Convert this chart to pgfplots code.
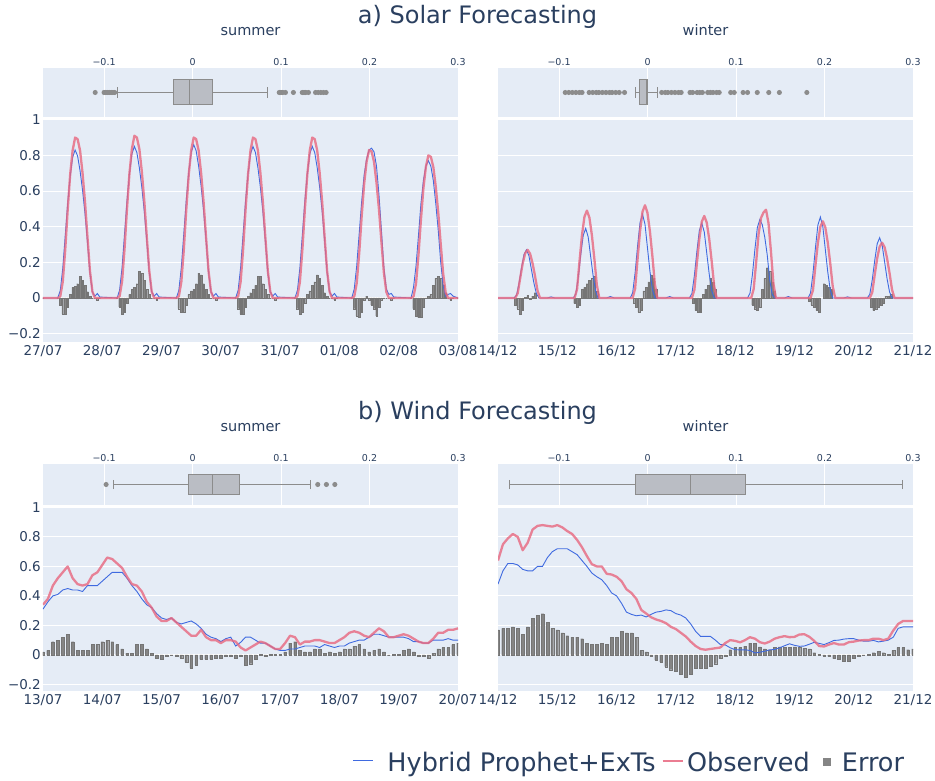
\documentclass[border=0pt]{standalone}
\usepackage{fontspec}
\setmainfont{DejaVu Sans}
\usepackage{pgfplots}
\usepackage{pgfplotstable}
\pgfplotsset{compat=1.18}
\usepgfplotslibrary{statistics}
\definecolor{bgc}{HTML}{E5ECF6}
\definecolor{tc}{HTML}{2A3F5F}
\definecolor{predc}{HTML}{3F6AE0}
\definecolor{obsc}{HTML}{E8677F}
\definecolor{errc}{HTML}{858585}
\definecolor{erre}{HTML}{757575}
\definecolor{boxf}{HTML}{BABDC4}
\definecolor{boxl}{HTML}{8C8C8C}

\pgfplotsset{
  base/.style={scale only axis, axis background/.style={fill=bgc}, axis line style={draw=none},
    major tick length=0pt, tick style={draw=none}, grid style={white, line width=1pt}},
  box/.style={base, width=415pt, xmin=-0.169, xmax=0.3, ymin=0, ymax=1, ytick=\empty,
    xtick={-0.1,0,0.1,0.2,0.3}, xticklabels={−0.1,0,0.1,0.2,0.3}, xticklabel pos=upper, xmajorgrids,
    xticklabel style={font=\fontsize{9.5}{11}\selectfont, text=tc, inner sep=0pt, anchor=south, yshift=2.5pt}},
  ts/.style={base, width=415pt, xmin=0, xmax=168, xtick={0,24,...,168},
    ytick={-0.2,0,0.2,0.4,0.6,0.8,1}, ymajorgrids,
    xticklabel style={font=\fontsize{13.5}{16}\selectfont, text=tc, inner sep=0pt, anchor=north, yshift=-3pt},
    yticklabel style={font=\fontsize{13.5}{15}\selectfont, text=tc, inner sep=0pt, anchor=east, xshift=-2pt}},
  pred/.style={color=predc, line width=0.9pt, mark=none},
  obs/.style={color=obsc, line width=2.3pt, opacity=0.8, mark=none, line join=round},
  err/.style={ybar, bar width=0.7, fill=errc, draw=erre, line width=0.15pt},
  werr/.style={ybar, bar width=1.1, fill=errc, draw=erre, line width=0.15pt},
  bxp/.style={draw=boxl, fill=boxf, line width=1pt, mark=*, mark size=2pt, mark options={fill=boxl, draw=none}},
}

% ---------- Solar summer (hours from 27/07 00:00): h obs pred err
\pgfplotstableread{
h o p e
0 0 0 0
6 0 0 0
7 0.009 0.042 -0.04
8 0.09 0.166 -0.09
9 0.27 0.349 -0.09
10 0.495 0.531 -0.05
11 0.693 0.681 0.02
12 0.828 0.789 0.06
13 0.90 0.83 0.065
14 0.891 0.797 0.08
15 0.828 0.714 0.12
16 0.702 0.606 0.10
17 0.54 0.473 0.07
18 0.342 0.315 0.035
19 0.153 0.141 0.01
20 0.036 0.033 0
21 0 0.01 0
22 0 0.025 -0.01
23 0 0.005 0
30 0 0 0
31 0.009 0.043 -0.05
32 0.091 0.17 -0.09
33 0.273 0.357 -0.08
34 0.50 0.544 -0.03
35 0.70 0.697 0.02
36 0.837 0.808 0.05
37 0.91 0.85 0.06
38 0.90 0.816 0.08
39 0.837 0.731 0.15
40 0.71 0.621 0.14
41 0.546 0.485 0.10
42 0.346 0.323 0.05
43 0.155 0.145 0.02
44 0.036 0.034 0
45 0 0.01 0
46 0 0.025 -0.01
47 0 0.005 0
54 0 0 0
55 0.009 0.043 -0.06
56 0.09 0.172 -0.08
57 0.27 0.361 -0.08
58 0.495 0.55 -0.04
59 0.693 0.705 0.02
60 0.828 0.817 0.04
61 0.90 0.86 0.05
62 0.891 0.826 0.08
63 0.828 0.74 0.14
64 0.702 0.628 0.13
65 0.54 0.49 0.08
66 0.342 0.327 0.05
67 0.153 0.146 0.02
68 0.036 0.034 0
69 0 0.01 0
70 0 0.025 -0.01
71 0 0.005 0
78 0 0 0
79 0.009 0.043 -0.06
80 0.09 0.17 -0.09
81 0.27 0.357 -0.09
82 0.495 0.544 -0.05
83 0.693 0.697 0.01
84 0.828 0.808 0.03
85 0.90 0.85 0.05
86 0.891 0.816 0.07
87 0.828 0.731 0.12
88 0.702 0.621 0.12
89 0.54 0.485 0.08
90 0.342 0.323 0.05
91 0.153 0.145 0.02
92 0.036 0.034 0
93 0 0.01 0
94 0 0.025 -0.01
95 0 0.005 0
102 0 0 0
103 0.009 0.043 -0.06
104 0.09 0.17 -0.09
105 0.27 0.357 -0.08
106 0.495 0.544 -0.03
107 0.693 0.697 0.02
108 0.828 0.808 0.04
109 0.90 0.85 0.07
110 0.891 0.816 0.09
111 0.828 0.731 0.13
112 0.702 0.621 0.11
113 0.54 0.485 0.07
114 0.342 0.323 0.03
115 0.153 0.145 0.01
116 0.036 0.034 0
117 0 0.01 0
118 0 0.025 -0.01
119 0 0.005 0
125 0 0 0
126 0.008 0.05 -0.06
127 0.083 0.18 -0.10
128 0.249 0.36 -0.11
129 0.457 0.54 -0.08
130 0.639 0.69 -0.01
131 0.764 0.78 0.01
132 0.83 0.83 -0.01
133 0.822 0.84 -0.04
134 0.764 0.82 -0.06
135 0.647 0.74 -0.10
136 0.498 0.58 -0.05
137 0.315 0.38 -0.01
138 0.141 0.17 0
139 0.033 0.05 0
140 0 0.02 0
141 0 0.025 -0.01
142 0 0.005 0
149 0 0 0
150 0.008 0.06 -0.06
151 0.08 0.18 -0.10
152 0.24 0.35 -0.11
153 0.44 0.53 -0.11
154 0.616 0.66 -0.05
155 0.736 0.74 0
156 0.80 0.77 0.01
157 0.792 0.74 0.02
158 0.736 0.66 0.07
159 0.624 0.53 0.11
160 0.48 0.38 0.12
161 0.304 0.2 0.11
162 0.136 0.07 0.07
163 0.032 0.01 0.03
164 0 0.02 0
165 0 0.025 -0.01
166 0 0.01 0
168 0 0 0
}\solarsummer

% ---------- Solar winter (hours from 14/12 00:00)
\pgfplotstableread{
h v
0 0
7 0
8 0.027
9 0.113
10 0.194
11 0.251
12 0.27
13 0.248
14 0.194
15 0.122
16 0.041
17 0
31 0
32 0.049
33 0.206
34 0.353
35 0.456
36 0.49
37 0.451
38 0.353
39 0.221
40 0.074
41 0
54.5 0
55.5 0.052
56.5 0.218
57.5 0.374
58.5 0.484
59.5 0.52
60.5 0.478
61.5 0.374
62.5 0.234
63.5 0.078
64.5 0
78.5 0
79.5 0.046
80.5 0.193
81.5 0.331
82.5 0.428
83.5 0.46
84.5 0.423
85.5 0.331
86.5 0.207
87.5 0.069
88.5 0
102.5 0
103.5 0.05
104.5 0.2
105.5 0.36
106.5 0.45
107.5 0.48
108.5 0.495
109.5 0.42
110.5 0.26
111.5 0.08
112.5 0
126.5 0
127.5 0.043
128.5 0.181
129.5 0.31
130.5 0.40
131.5 0.43
132.5 0.396
133.5 0.31
134.5 0.194
135.5 0.065
136.5 0
150.5 0
151.5 0.031
152.5 0.13
153.5 0.223
154.5 0.288
155.5 0.31
156.5 0.285
157.5 0.223
158.5 0.14
159.5 0.047
160.5 0
168 0
}\swobs

\pgfplotstableread{
h v
0 0
6.5 0
7.5 0.016
8.5 0.081
9.5 0.167
10.5 0.243
11.5 0.27
12.5 0.238
13.5 0.162
14.5 0.086
15.5 0.027
16.5 0
20 0
21.5 0.006
23 0
30.5 0
31.5 0.023
32.5 0.117
33.5 0.242
34.5 0.351
35.5 0.39
36.5 0.343
37.5 0.234
38.5 0.125
39.5 0.039
40.5 0
44 0
45.5 0.008
47 0
53.5 0
54.5 0.028
55.5 0.141
56.5 0.291
57.5 0.423
58.5 0.47
59.5 0.414
60.5 0.282
61.5 0.15
62.5 0.047
63.5 0
68 0
69.5 0.008
71 0
77.5 0
78.5 0.025
79.5 0.126
80.5 0.26
81.5 0.378
82.5 0.42
83.5 0.37
84.5 0.252
85.5 0.134
86.5 0.042
87.5 0
101 0
102 0.026
103 0.132
104 0.273
105 0.396
106 0.44
107 0.41
108 0.34
109 0.24
110 0.1
111 0.02
112 0
116 0
117.5 0.008
119 0
125.5 0
126.5 0.027
127.5 0.136
128.5 0.281
129.5 0.409
130.5 0.454
131.5 0.40
132.5 0.272
133.5 0.145
134.5 0.045
135.5 0
140 0
141.5 0.006
143 0
149.5 0
150.5 0.02
151.5 0.101
152.5 0.21
153.5 0.304
154.5 0.338
155.5 0.297
156.5 0.203
157.5 0.108
158.5 0.034
159.5 0
168 0
}\swpred

\pgfplotstableread{
h v
7 -0.04
8 -0.06
9 -0.09
10 -0.07
11 0.005
12 0.015
13 -0.005
14 0.01
15 0.03
31 -0.03
32 -0.05
33 -0.04
34 0.05
35 0.06
36 0.08
37 0.10
38 0.11
39 0.12
40 0.04
55 -0.03
56 -0.05
57 -0.08
58 -0.07
59 0.04
60 0.06
61 0.09
62 0.13
63 0.11
64 0.05
79 -0.03
80 -0.07
81 -0.08
82 -0.08
83 0.02
84 0.05
85 0.07
86 0.11
87 0.09
88 0.05
103 -0.04
104 -0.06
105 -0.07
106 -0.05
107 0.05
108 0.11
109 0.17
110 0.15
111 0.09
112 0.04
126 -0.02
127 -0.04
128 -0.05
129 -0.07
130 -0.08
132 0.08
133 0.07
134 0.06
135 0.05
151 -0.05
152 -0.07
153 -0.06
154 -0.05
155 -0.04
156 -0.03
157 0.01
158 0.01
159 0.02
}\swerr

% ---------- Wind summer (hours from 13/07 00:00)
\pgfplotstableread{
h o p e
0 0.34 0.31 0.02
2 0.38 0.36 0.03
4 0.47 0.40 0.09
6 0.52 0.41 0.10
8 0.56 0.44 0.12
10 0.60 0.45 0.14
12 0.52 0.44 0.09
14 0.48 0.44 0.03
16 0.47 0.43 0.03
18 0.48 0.47 0.03
20 0.54 0.47 0.07
22 0.56 0.47 0.07
24 0.61 0.50 0.09
26 0.66 0.53 0.10
28 0.65 0.56 0.09
30 0.62 0.56 0.07
32 0.59 0.56 0.04
34 0.53 0.52 0.01
36 0.48 0.47 0.01
38 0.47 0.43 0.07
40 0.43 0.38 0.07
42 0.36 0.34 0.04
44 0.32 0.32 0.01
46 0.26 0.28 -0.02
48 0.23 0.25 -0.03
50 0.23 0.24 -0.01
52 0.25 0.25 0.00
54 0.22 0.22 -0.01
56 0.19 0.21 -0.02
58 0.16 0.22 -0.05
60 0.13 0.23 -0.09
62 0.13 0.21 -0.07
64 0.17 0.18 -0.03
66 0.12 0.14 -0.03
68 0.10 0.12 -0.03
70 0.10 0.11 -0.02
72 0.08 0.09 -0.02
74 0.10 0.11 -0.01
76 0.10 0.12 -0.01
78 0.09 0.06 -0.02
80 0.05 0.085 -0.01
82 0.03 0.12 -0.07
84 0.05 0.12 -0.06
86 0.07 0.10 -0.03
88 0.09 0.08 0.005
90 0.08 0.08 -0.01
92 0.06 0.06 0.005
94 0.04 0.04 0.005
96 0.04 0.03 0.005
98 0.08 0.03 0.02
100 0.13 0.04 0.08
102 0.12 0.04 0.09
104 0.07 0.05 0.03
106 0.09 0.06 0.02
108 0.09 0.06 0.02
110 0.10 0.06 0.04
112 0.10 0.05 0.04
114 0.09 0.07 0.01
116 0.08 0.06 0.02
118 0.08 0.05 0.01
120 0.10 0.06 0.02
122 0.12 0.06 0.04
124 0.15 0.08 0.04
126 0.16 0.09 0.06
128 0.15 0.10 0.07
130 0.13 0.10 0.04
132 0.12 0.12 0.02
134 0.15 0.14 0.03
136 0.18 0.14 0.04
138 0.16 0.13 0.02
140 0.12 0.12 0.00
142 0.12 0.12 0.005
144 0.13 0.12 0.005
146 0.14 0.12 0.03
148 0.13 0.11 0.04
150 0.11 0.09 0.02
152 0.09 0.09 -0.005
154 0.08 0.08 -0.01
156 0.08 0.08 -0.02
158 0.11 0.10 0.01
160 0.15 0.10 0.04
162 0.15 0.10 0.05
164 0.17 0.11 0.05
166 0.17 0.10 0.07
168 0.18 0.10 0.08
}\windsummer

% ---------- Wind winter (hours from 14/12 00:00)
\pgfplotstableread{
h o p e
0 0.64 0.48 0.17
2 0.75 0.57 0.18
4 0.79 0.62 0.18
6 0.82 0.62 0.19
8 0.80 0.61 0.18
10 0.71 0.58 0.14
12 0.76 0.57 0.19
14 0.85 0.57 0.25
16 0.875 0.60 0.27
18 0.88 0.60 0.28
20 0.875 0.66 0.22
22 0.87 0.70 0.18
24 0.88 0.72 0.17
26 0.865 0.72 0.15
28 0.84 0.72 0.13
30 0.82 0.70 0.12
32 0.78 0.68 0.12
34 0.73 0.64 0.11
36 0.67 0.60 0.08
38 0.615 0.555 0.07
40 0.60 0.53 0.07
42 0.60 0.51 0.08
44 0.55 0.47 0.07
46 0.545 0.42 0.12
48 0.53 0.40 0.12
50 0.50 0.35 0.16
52 0.445 0.29 0.15
54 0.42 0.275 0.15
56 0.38 0.265 0.12
58 0.305 0.27 0.03
60 0.28 0.257 0.02
62 0.255 0.275 -0.01
64 0.24 0.29 -0.035
66 0.23 0.295 -0.05
68 0.215 0.305 -0.08
70 0.19 0.30 -0.10
72 0.175 0.28 -0.11
74 0.15 0.27 -0.13
76 0.125 0.25 -0.15
78 0.09 0.21 -0.13
80 0.06 0.16 -0.09
82 0.04 0.125 -0.09
84 0.035 0.125 -0.09
86 0.04 0.125 -0.075
88 0.045 0.10 -0.06
90 0.05 0.07 -0.025
92 0.08 0.068 -0.01
94 0.10 0.048 0.035
96 0.095 0.035 0.05
98 0.085 0.034 0.05
100 0.10 0.034 0.06
102 0.12 0.03 0.08
104 0.11 0.013 0.08
106 0.086 0.018 0.055
108 0.077 0.025 0.04
110 0.09 0.034 0.035
112 0.11 0.037 0.05
114 0.12 0.048 0.055
116 0.127 0.062 0.05
118 0.12 0.075 0.05
120 0.122 0.065 0.055
122 0.138 0.058 0.055
124 0.14 0.06 0.045
126 0.123 0.072 0.04
128 0.095 0.085 0.015
130 0.06 0.078 0.005
132 0.057 0.07 -0.005
134 0.07 0.083 -0.01
136 0.08 0.098 -0.025
138 0.07 0.10 -0.03
140 0.07 0.107 -0.04
142 0.086 0.11 -0.04
144 0.09 0.11 -0.025
146 0.097 0.10 -0.01
148 0.10 0.093 0
150 0.10 0.093 0.005
152 0.11 0.098 0.015
154 0.11 0.088 0.025
156 0.10 0.093 0.015
158 0.11 0.10 0.005
160 0.165 0.12 0.03
162 0.21 0.18 0.05
164 0.23 0.19 0.05
166 0.23 0.19 0.035
168 0.23 0.19 0.04
}\windwinter

\begin{document}
\begin{tikzpicture}
\fill[white] (0pt,0pt) rectangle (935pt,781pt);

% ===== a) Solar, summer
\begin{axis}[box, at={(43pt,664pt)}, anchor=south west, height=49pt]
\addplot[bxp, boxplot prepared={draw position=0.5, box extend=0.51, whisker extend=0.22,
  lower whisker=-0.0846, lower quartile=-0.021, median=-0.003, upper quartile=0.0225, upper whisker=0.085}]
  table[row sep=\\, y index=0] {d\\ -0.110\\ -0.100\\ -0.098\\ -0.096\\ -0.094\\ -0.092\\ -0.090\\ -0.088\\
  0.098\\ 0.100\\ 0.102\\ 0.105\\ 0.114\\ 0.124\\ 0.126\\ 0.128\\ 0.131\\ 0.139\\ 0.142\\ 0.145\\ 0.148\\ 0.151\\};
\end{axis}
\begin{axis}[ts, at={(43pt,439pt)}, anchor=south west, height=223pt, ymin=-0.247, ymax=1.004,
  xticklabels={27/07,28/07,29/07,30/07,31/07,01/08,02/08,03/08},
  yticklabels={−0.2,0,0.2,0.4,0.6,0.8,1}]
\addplot[err] table[x=h, y=e] {\solarsummer};
\addplot[pred] table[x=h, y=p] {\solarsummer};
\addplot[obs] table[x=h, y=o] {\solarsummer};
\end{axis}

% ===== a) Solar, winter
\begin{axis}[box, at={(498pt,664pt)}, anchor=south west, height=49pt]
\addplot[bxp, boxplot prepared={draw position=0.5, box extend=0.51, whisker extend=0.22,
  lower whisker=-0.0131, lower quartile=-0.0086, median=-0.001, upper quartile=0.0, upper whisker=0.0112}]
  table[row sep=\\, y index=0] {d\\ -0.093\\ -0.089\\ -0.085\\ -0.081\\ -0.077\\ -0.074\\ -0.066\\ -0.062\\ -0.058\\
  -0.055\\ -0.051\\ -0.047\\ -0.043\\ -0.040\\ -0.036\\ -0.032\\ -0.026\\
  0.016\\ 0.020\\ 0.023\\ 0.027\\ 0.031\\ 0.035\\ 0.038\\ 0.048\\ 0.051\\ 0.056\\ 0.059\\ 0.062\\
  0.068\\ 0.071\\ 0.074\\ 0.078\\ 0.081\\ 0.094\\ 0.098\\ 0.108\\ 0.113\\ 0.124\\ 0.137\\ 0.149\\ 0.180\\};
\end{axis}
\begin{axis}[ts, at={(498pt,439pt)}, anchor=south west, height=223pt, ymin=-0.247, ymax=1.004,
  xticklabels={14/12,15/12,16/12,17/12,18/12,19/12,20/12,21/12}, yticklabels={}]
\addplot[err] table[x=h, y=v] {\swerr};
\addplot[pred] table[x=h, y=v] {\swpred};
\addplot[obs] table[x=h, y=v] {\swobs};
\end{axis}

% ===== b) Wind, summer
\begin{axis}[box, at={(43pt,276pt)}, anchor=south west, height=41pt]
\addplot[bxp, boxplot prepared={draw position=0.5, box extend=0.51, whisker extend=0.22,
  lower whisker=-0.0894, lower quartile=-0.0045, median=0.0226, upper quartile=0.0536, upper whisker=0.1332}]
  table[row sep=\\, y index=0] {d\\ -0.0977\\ 0.1415\\ 0.1513\\ 0.1608\\};
\end{axis}
\begin{axis}[ts, at={(43pt,90pt)}, anchor=south west, height=184pt, ymin=-0.245, ymax=1.003,
  xticklabels={13/07,14/07,15/07,16/07,17/07,18/07,19/07,20/07},
  yticklabels={−0.2,0,0.2,0.4,0.6,0.8,1}]
\addplot[werr] table[x=h, y=e] {\windsummer};
\addplot[pred] table[x=h, y=p] {\windsummer};
\addplot[obs] table[x=h, y=o] {\windsummer};
\end{axis}

% ===== b) Wind, winter
\begin{axis}[box, at={(498pt,276pt)}, anchor=south west, height=41pt]
\addplot[bxp, boxplot prepared={draw position=0.5, box extend=0.51, whisker extend=0.22,
  lower whisker=-0.1558, lower quartile=-0.0131, median=0.0483, upper quartile=0.1112, upper whisker=0.2884}]
  coordinates {};
\end{axis}
\begin{axis}[ts, at={(498pt,90pt)}, anchor=south west, height=184pt, ymin=-0.245, ymax=1.003,
  xticklabels={14/12,15/12,16/12,17/12,18/12,19/12,20/12,21/12}, yticklabels={},
  legend columns=3,
  legend style={at={(-0.3494,-0.4033)}, anchor=west, draw=none, fill=none, inner sep=0pt, outer sep=0pt,
    font=\fontsize{25.5}{30}\selectfont, text=tc,
    nodes={inner sep=0pt, text height=19pt, text depth=6pt},
    /tikz/column 1/.style={column sep=13.7pt},
    /tikz/column 2/.style={column sep=6.3pt},
    /tikz/column 3/.style={column sep=3.7pt},
    /tikz/column 4/.style={column sep=13.7pt},
    /tikz/column 5/.style={column sep=11pt}}]
\addlegendimage{legend image code/.code={\draw[predc, line width=0.8pt] (0pt,4.5pt) -- (20pt,4.5pt);}}
\addlegendentry{Hybrid Prophet+ExTs}
\addlegendimage{legend image code/.code={\draw[obsc, line width=1.6pt, opacity=0.85] (0pt,4.5pt) -- (20pt,4.5pt);}}
\addlegendentry{Observed}
\addlegendimage{legend image code/.code={\fill[errc] (0pt,0.2pt) rectangle (7pt,7.2pt);}}
\addlegendentry{Error}
\addplot[werr, forget plot] table[x=h, y=e] {\windwinter};
\addplot[pred, forget plot] table[x=h, y=p] {\windwinter};
\addplot[obs, forget plot] table[x=h, y=o] {\windwinter};
\end{axis}

% ===== titles
\node[anchor=base, text=tc, font=\fontsize{24}{28}\selectfont] at (477.5pt,757pt) {a) Solar Forecasting};
\node[anchor=base, text=tc, font=\fontsize{14.5}{17}\selectfont] at (250.5pt,745pt) {summer};
\node[anchor=base, text=tc, font=\fontsize{14.5}{17}\selectfont] at (705.5pt,745pt) {winter};
\node[anchor=base, text=tc, font=\fontsize{24}{28}\selectfont] at (477.5pt,361pt) {b) Wind Forecasting};
\node[anchor=base, text=tc, font=\fontsize{14.5}{17}\selectfont] at (250.5pt,349pt) {summer};
\node[anchor=base, text=tc, font=\fontsize{14.5}{17}\selectfont] at (705.5pt,349pt) {winter};

\pgfresetboundingbox
\useasboundingbox (0pt,0pt) rectangle (935pt,781pt);
\end{tikzpicture}
\end{document}
